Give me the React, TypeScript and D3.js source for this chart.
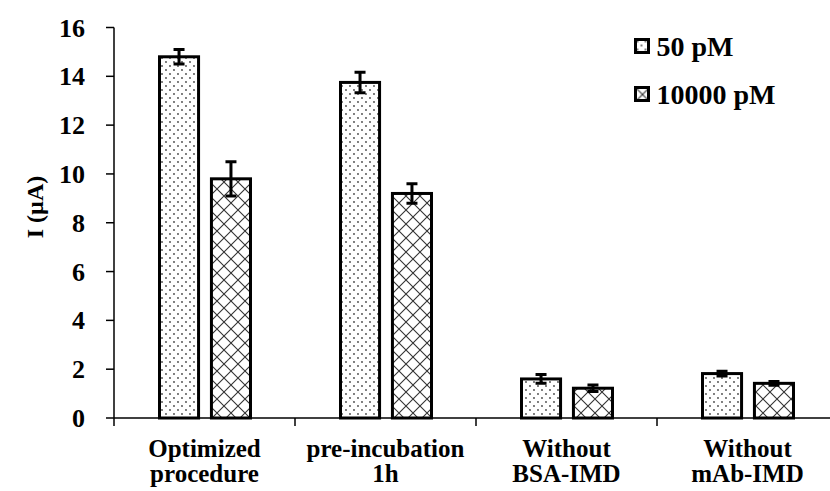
import * as d3 from 'd3';

const categories = ['Optimized procedure', 'pre-incubation 1h', 'Without BSA-IMD', 'Without mAb-IMD'];
const categoryLines = [['Optimized', 'procedure'], ['pre-incubation', '1h'], ['Without', 'BSA-IMD'], ['Without', 'mAb-IMD']];
const series = ['50 pM', '10000 pM'];
const values50 = [14.8, 13.75, 1.6, 1.82];
const err50 = [0.3, 0.42, 0.18, 0.1];
const values10000 = [9.8, 9.2, 1.22, 1.42];
const err10000 = [0.7, 0.4, 0.13, 0.08];
const yTicks = [0, 2, 4, 6, 8, 10, 12, 14, 16];

const W = 830, H = 491;
const FONT = '"Liberation Serif", "Times New Roman", serif';

export default function App() {
  const x = d3.scaleBand().domain(categories).range([114, 114 + 181 * 4]).padding(0);
  const x1 = d3.scaleBand().domain(series).range([44, 138]).paddingInner(0.19);
  const y = d3.scaleLinear().domain([0, 16]).range([418, 27.5]);

  const rows = categories.map((c, i) => [
    { s: series[0], v: values50[i], e: err50[i], c },
    { s: series[1], v: values10000[i], e: err10000[i], c },
  ]);

  const fillFor = (s: string) => (s === series[0] ? 'url(#dots)' : 'url(#cross)');
  const mid = (c: string) => (x(c) as number) + x.bandwidth() / 2;

  return (
    <svg width={W} height={H} style={{ position: 'absolute', left: 0, top: 0, background: '#fff' }}
      fontFamily={FONT} fontWeight="bold">
      <defs>
        <pattern id="dots" width="8" height="8" patternUnits="userSpaceOnUse">
          <rect width="8" height="8" fill="#fff" />
          <circle cx="2" cy="2" r="0.9" fill="#444" />
          <circle cx="6" cy="6" r="0.9" fill="#444" />
        </pattern>
        <pattern id="cross" width="14" height="14" patternUnits="userSpaceOnUse">
          <rect width="14" height="14" fill="#fff" />
          <path d="M0,0L14,14M14,0L0,14" stroke="#333" strokeWidth="1.1" />
        </pattern>
      </defs>

      {/* y axis */}
      <line x1={114} x2={114} y1={y(16)} y2={426} stroke="#000" strokeWidth={1.5} />
      {yTicks.map((t) => (
        <g key={t}>
          <line x1={106} x2={114} y1={y(t)} y2={y(t)} stroke="#000" strokeWidth={1.5} />
          <text x={85} y={y(t)} dy="0.35em" textAnchor="end" fontSize={26}>{t}</text>
        </g>
      ))}
      <text transform={`translate(43,207) rotate(-90)`} textAnchor="middle" fontSize={24}>I (µA)</text>

      {/* x axis */}
      <line x1={114} x2={W} y1={418} y2={418} stroke="#000" strokeWidth={1.5} />
      {categories.map((c) => (
        <line key={c} x1={(x(c) as number) + x.bandwidth()} x2={(x(c) as number) + x.bandwidth()}
          y1={418} y2={426} stroke="#000" strokeWidth={1.5} />
      ))}
      {categories.map((c, i) => (
        <text key={c} textAnchor="middle" fontSize={25}>
          <tspan x={mid(c)} y={457}>{categoryLines[i][0]}</tspan>
          <tspan x={mid(c)} y={482}>{categoryLines[i][1]}</tspan>
        </text>
      ))}

      {/* bars */}
      {rows.flat().map((d) => {
        const bx = (x(d.c) as number) + (x1(d.s) as number);
        const bw = x1.bandwidth();
        const cx = bx + bw / 2;
        return (
          <g key={d.c + d.s}>
            <rect x={bx + 1.5} y={y(d.v)} width={bw - 3} height={y(0) - y(d.v)}
              fill={fillFor(d.s)} stroke="#000" strokeWidth={3} />
            <path d={`M${cx - 5.5},${y(d.v + d.e)}H${cx + 5.5}M${cx},${y(d.v + d.e)}V${y(d.v - d.e)}M${cx - 5.5},${y(d.v - d.e)}H${cx + 5.5}`}
              stroke="#000" strokeWidth={3} fill="none" />
          </g>
        );
      })}

      {/* legend */}
      {series.map((s, i) => (
        <g key={s} transform={`translate(635.5,${39.5 + i * 48})`}>
          <rect x={0} y={0} width={13} height={13} fill={fillFor(s)} stroke="#000" strokeWidth={3} />
          <text x={21} y={16} fontSize={28}>{s}</text>
        </g>
      ))}
    </svg>
  );
}
